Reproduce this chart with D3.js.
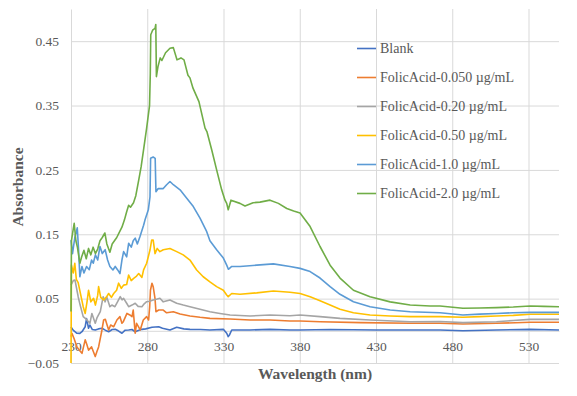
<!DOCTYPE html>
<html>
<head>
<meta charset="utf-8">
<script src="https://cdn.jsdelivr.net/npm/d3@7"></script>
<style>
  body { margin: 0; background: #fff; }
</style>
</head>
<body>
<div id="chart"></div>
<script>
// tick labels
const xTicks = [230, 280, 330, 380, 430, 480, 530];
const yTicks = [-0.05, 0.05, 0.15, 0.25, 0.35, 0.45];

// series names + colours (Excel defaults)
const seriesNames = ["Blank", "FolicAcid-0.050 µg/mL", "FolicAcid-0.20 µg/mL",
    "FolicAcid-0.50 µg/mL", "FolicAcid-1.0 µg/mL", "FolicAcid-2.0 µg/mL"];
const seriesColors = ["#4472C4", "#ED7D31", "#A5A5A5", "#FFC000", "#5B9BD5", "#70AD47"];

// [wavelength nm, absorbance]
const blank = [[230, 0.006], [231.4, 0.001], [233.9, -0.0038], [235.8, -0.004], [237.2, -0.0014], [239.3, 0.0064],
    [240.2, 0.019], [241.5, 0.0039], [242.4, 0.009], [244, 0.002], [245.9, 0.0013], [248, 0.003], [250.3, 0.0039],
    [252.5, 0.001], [254.7, -0.0014], [257, 0.002], [259, 0.0023], [261, 0], [263.4, -0.0038], [265.5, 0.001],
    [267.8, 0.0013], [270, 0.002], [272.1, -0.0014], [274.5, 0.001], [276.5, 0.0023], [279, 0.003], [283.1, 0.0055],
    [287.5, 0.0064], [290, 0.004], [294.9, 0.0013], [299.3, 0.0055], [304, 0.003], [308, 0.0023], [315, 0.002],
    [321.1, 0.0013], [329.9, 0.0023], [332.1, -0.0038], [333.1, -0.009], [334, -0.006], [335.4, 0.0013],
    [347.4, 0.0013], [360.5, 0.0023], [373.6, 0.0013], [380.2, 0.0013], [400, 0.002], [430, 0.0013], [472, 0.0013],
    [487, 0.0002], [509, 0.0013], [531, 0.0023], [550, 0.0013]];

const fa0050 = [[230, -0.009], [230.6, -0.004], [232, -0.012], [233.9, -0.025], [235.5, -0.03], [237.2, -0.035],
    [239.3, -0.014], [240.5, -0.022], [241.5, -0.03], [243.5, -0.025], [245.9, -0.04], [247, -0.032], [248.1, -0.025],
    [250.3, 0.0013], [251.4, 0.0168], [252.5, 0.018], [254.7, 0.0013], [256, 0.009], [258, 0.0064], [260.1, 0.0168],
    [262.1, 0.022], [263.4, 0.0117], [264.3, 0.0142], [266.7, 0.027], [268.6, 0.0246], [270, 0.022], [270.8, 0.0323],
    [272.1, -0.0038], [273, 0.0117], [275.4, 0.0013], [277.4, 0.0168], [279.6, 0.022], [280.9, 0.0168],
    [281.6, 0.0375], [282.1, 0.063], [283.1, 0.074], [283.9, 0.0686], [285.1, 0.05], [285.7, 0.0297],
    [287.5, 0.0323], [290.5, 0.0323], [292.7, 0.028], [297.1, 0.0297], [301.5, 0.026], [308, 0.023], [314.6, 0.021],
    [321.1, 0.0194], [334.3, 0.0184], [347.4, 0.0168], [360.5, 0.0168], [373.6, 0.0153], [380.2, 0.0153],
    [393.3, 0.0142], [420, 0.0127], [452.4, 0.0117], [472, 0.0117], [487, 0.0106], [509, 0.0117], [531, 0.0132],
    [550, 0.0132]];

const fa020 = [[230, 0.071], [231.5, 0.078], [232.6, 0.079], [233.9, 0.063], [234.7, 0.053], [236, 0.04], [238, 0.022],
    [240, 0.018], [242.4, 0.0117], [243.7, 0.027], [245.9, 0.0117], [247, 0.02], [249.2, 0.0297], [251.1, 0.053],
    [252.4, 0.045], [253.4, 0.053], [255.5, 0.0375], [256.8, 0.04], [258.8, 0.0375], [260.5, 0.045], [262.3, 0.053],
    [263.5, 0.048], [264.5, 0.0505], [266.5, 0.0428], [267.8, 0.0375], [270, 0.04], [272.1, 0.0428], [274, 0.038],
    [276.5, 0.0375], [278, 0.042], [279.6, 0.0452], [281.5, 0.046], [283.9, 0.048], [286, 0.049], [288.3, 0.0505],
    [290.5, 0.045], [294.9, 0.048], [299.3, 0.0428], [303.6, 0.04], [308, 0.0375], [314.6, 0.0334], [321.1, 0.0297],
    [327.7, 0.027], [334.3, 0.0246], [347.4, 0.023], [360.5, 0.0246], [373.6, 0.0235], [380.2, 0.0246],
    [393.3, 0.022], [406.4, 0.0194], [426.1, 0.0168], [452.4, 0.0142], [472, 0.0145], [487, 0.0127], [509, 0.0142],
    [520, 0.016], [531, 0.0178], [550, 0.0178]];

const fa050 = [[230, -0.05], [230.3, 0.102], [231.5, 0.09], [232.5, 0.105], [233.5, 0.08], [234.7, 0.075], [236, 0.06],
    [238, 0.0375], [239.3, 0.027], [240.5, 0.045], [241.5, 0.063], [243, 0.045], [244.8, 0.0505], [246, 0.04],
    [247.5, 0.055], [248.1, 0.0686], [249.5, 0.052], [251.4, 0.048], [253.4, 0.053], [254.7, 0.058], [256.5, 0.052],
    [258, 0.058], [259.9, 0.063], [261.2, 0.074], [263, 0.066], [264.5, 0.071], [266.5, 0.072], [267.8, 0.0867],
    [269.5, 0.078], [271.1, 0.0816], [273, 0.085], [274.4, 0.089], [276.5, 0.083], [277.6, 0.0946], [279.6, 0.105],
    [281.8, 0.1255], [282.9, 0.141], [283.9, 0.141], [285.1, 0.12], [286.5, 0.128], [288.3, 0.123], [290.5, 0.126],
    [294.9, 0.128], [299.3, 0.123], [303.6, 0.118], [308, 0.11], [312.4, 0.0945], [316.7, 0.084], [321.1, 0.076],
    [325.5, 0.0686], [329.9, 0.063], [332.1, 0.0557], [333.1, 0.053], [335.4, 0.058], [340.8, 0.0567],
    [351.8, 0.059], [362.7, 0.0619], [373.6, 0.06], [380.2, 0.058], [386.8, 0.053], [393.3, 0.0468], [399.9, 0.0401],
    [406.4, 0.0334], [415.2, 0.0282], [426.1, 0.0246], [439.3, 0.023], [452.4, 0.022], [472, 0.022], [487, 0.021],
    [498, 0.022], [509, 0.023], [520, 0.024], [531, 0.0257], [550, 0.0257]];

const fa10 = [[230, 0.141], [231, 0.12], [232.5, 0.145], [234.1, 0.16], [235, 0.125], [235.8, 0.084], [237.2, 0.1],
    [238.5, 0.09], [240.2, 0.1], [242, 0.095], [243.5, 0.11], [244.6, 0.105], [246, 0.118], [247.5, 0.11],
    [249, 0.131], [250.5, 0.12], [252.4, 0.126], [254, 0.11], [255.5, 0.1], [257.5, 0.0945], [259, 0.1],
    [260.5, 0.095], [262.1, 0.089], [263.4, 0.11], [264.5, 0.123], [266.5, 0.115], [267.8, 0.136], [269.5, 0.13],
    [270.8, 0.14], [272.1, 0.144], [273.5, 0.135], [275.2, 0.146], [277.6, 0.164], [278.5, 0.172], [280.7, 0.188],
    [281.8, 0.208], [282.2, 0.268], [283.9, 0.27], [285.2, 0.268], [285.7, 0.216], [287.2, 0.221], [290.5, 0.221],
    [292.7, 0.227], [294.9, 0.232], [297.1, 0.227], [301.5, 0.219], [305.9, 0.206], [310.2, 0.193], [314.6, 0.175],
    [319, 0.154], [321.1, 0.14], [325.5, 0.126], [329.9, 0.113], [332.1, 0.102], [333.2, 0.0956], [335.4, 0.1],
    [340.8, 0.1], [351.8, 0.102], [362.7, 0.104], [373.6, 0.1], [380.2, 0.097], [386.8, 0.092], [393.3, 0.082],
    [399.9, 0.0686], [406.4, 0.0567], [415.2, 0.0452], [426.1, 0.0375], [439.3, 0.0323], [452.4, 0.0297],
    [472, 0.028], [487, 0.0246], [498, 0.026], [509, 0.027], [520, 0.028], [531, 0.0287], [550, 0.0287]];

const fa20 = [[230, 0.03], [230.3, 0.14], [231.4, 0.157], [232.1, 0.167], [233.2, 0.14], [234.2, 0.13], [235.8, 0.105],
    [237, 0.115], [238.5, 0.125], [240, 0.112], [241.5, 0.128], [243, 0.118], [244.5, 0.13], [246, 0.12],
    [247.5, 0.127], [249, 0.14], [250.5, 0.145], [252.2, 0.152], [253.5, 0.135], [255.5, 0.122], [257, 0.135],
    [258.5, 0.14], [260, 0.145], [261.5, 0.152], [263.4, 0.161], [265, 0.172], [266.5, 0.185], [267.8, 0.195],
    [269, 0.192], [271, 0.199], [272.5, 0.21], [274.4, 0.234], [276, 0.255], [277.5, 0.28], [279.6, 0.315],
    [281.5, 0.35], [282, 0.40], [282.3, 0.46], [283.5, 0.467], [285.1, 0.47], [285.6, 0.476], [286, 0.395],
    [287, 0.41], [288.5, 0.424], [289.6, 0.42], [292, 0.432], [294.9, 0.439], [297.1, 0.44], [299.5, 0.421],
    [302.1, 0.424], [304.1, 0.421], [306.7, 0.397], [308, 0.393], [310, 0.377], [313.9, 0.356], [317.9, 0.315],
    [319.2, 0.309], [322.3, 0.281], [325.5, 0.25], [328.8, 0.219], [331, 0.203], [332.1, 0.198], [333.1, 0.188],
    [334.9, 0.203], [340.8, 0.198], [344.1, 0.194], [349.4, 0.199], [353.9, 0.2], [360.5, 0.203], [366, 0.198],
    [371.5, 0.19], [376, 0.186], [380.2, 0.183], [386.8, 0.162], [393.3, 0.131], [399.9, 0.102], [406.4, 0.082],
    [415.2, 0.063], [426.1, 0.053], [439.3, 0.045], [452.4, 0.04], [465.5, 0.0386], [472, 0.0386], [487, 0.035],
    [498, 0.0355], [509, 0.036], [520, 0.037], [531, 0.0386], [540, 0.038], [550, 0.0375]];

const seriesData = [blank, fa0050, fa020, fa050, fa10, fa20];

const width = 577, height = 396;
const serif = "\"Liberation Serif\"";

const svg = d3.select("#chart").append("svg")
    .attr("width", width)
    .attr("height", height);

const x = d3.scaleLinear().domain([230, 550]).range([71, 559]);
const y = d3.scaleLinear().domain([-0.05, 0.5]).range([363, 9]);

const grid = "#D9D9D9";
const textCol = "#595959";

// horizontal gridlines
svg.append("g")
    .attr("transform", `translate(${x(230)},0)`)
    .call(d3.axisLeft(y).tickValues(yTicks).tickSize(-(x(550) - x(230))).tickFormat(""))
    .call(g => g.select(".domain").remove())
    .call(g => g.selectAll("line").attr("stroke", grid).attr("stroke-width", 1));

// vertical gridlines (not at 230, that's the axis)
svg.append("g")
    .attr("transform", `translate(0,${y(-0.05)})`)
    .call(d3.axisBottom(x).tickValues(xTicks.slice(1)).tickSize(-(y(-0.05) - y(0.5))).tickFormat(""))
    .call(g => g.select(".domain").remove())
    .call(g => g.selectAll("line").attr("stroke", grid).attr("stroke-width", 1));

// y axis
svg.append("g")
    .attr("transform", `translate(${x(230)},0)`)
    .call(d3.axisLeft(y).tickValues(yTicks).tickSize(0).tickPadding(12).tickFormat(d3.format(".2f")))
    .call(g => g.select(".domain").attr("stroke", grid))
    .call(g => g.selectAll("text")
        .attr("fill", textCol)
        .style("font-family", serif)
        .style("font-size", "13.5px"));

// x axis sits at y = 0
svg.append("g")
    .attr("transform", `translate(0,${y(0)})`)
    .call(d3.axisBottom(x).tickValues(xTicks).tickSize(0).tickPadding(11).tickFormat(d3.format("d")))
    .call(g => g.select(".domain").attr("stroke", grid))
    .call(g => g.selectAll("text")
        .attr("fill", textCol)
        .style("font-family", serif)
        .style("font-size", "13.5px"));

// spectra
const line = d3.line()
    .x(d => x(d[0]))
    .y(d => y(d[1]));

svg.append("g")
    .selectAll("path")
    .data(seriesData)
    .enter()
    .append("path")
    .attr("d", line)
    .attr("fill", "none")
    .attr("stroke", (d, i) => seriesColors[i])
    .attr("stroke-width", 1.6)
    .attr("stroke-linejoin", "round");

// legend
const legend = svg.append("g")
    .selectAll("g")
    .data(seriesNames)
    .enter()
    .append("g")
    .attr("transform", (d, i) => `translate(357,${48.5 + i * 29})`);

legend.append("line")
    .attr("x1", 0).attr("x2", 19)
    .attr("stroke", (d, i) => seriesColors[i])
    .attr("stroke-width", 1.6);

legend.append("text")
    .attr("x", 23)
    .attr("dy", "0.35em")
    .attr("fill", textCol)
    .style("font-family", serif)
    .style("font-size", "14px")
    .text(d => d);

// axis titles
svg.append("text")
    .attr("x", (x(230) + x(550)) / 2)
    .attr("y", 379)
    .attr("text-anchor", "middle")
    .attr("fill", textCol)
    .style("font-family", serif)
    .style("font-weight", "bold")
    .style("font-size", "15.5px")
    .text("Wavelength (nm)");

svg.append("text")
    .attr("transform", "translate(23,187) rotate(-90)")
    .attr("text-anchor", "middle")
    .attr("fill", textCol)
    .style("font-family", serif)
    .style("font-weight", "bold")
    .style("font-size", "15.5px")
    .text("Absorbance");
</script>
</body>
</html>
